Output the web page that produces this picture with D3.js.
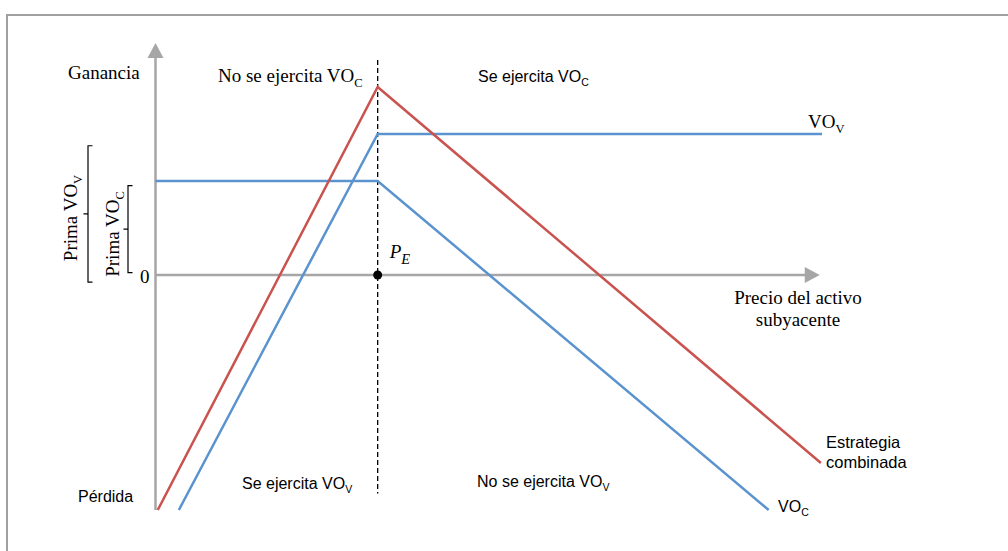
<!DOCTYPE html>
<html><head><meta charset="utf-8">
<script src="https://cdn.jsdelivr.net/npm/d3@7"></script>
<style>
html,body{margin:0;padding:0;background:#fff;}
.serif{font-family:"Liberation Serif","Times New Roman",serif;fill:#000;}
.sans{font-family:"Liberation Sans",Arial,sans-serif;fill:#000;}
</style></head>
<body>
<svg id="chart" width="1008" height="551"></svg>
<script>
// ---- data (price of underlying vs profit, schematic units) ----
const strikePrice = 10;
const priceMax = 30;
const profitMin = -10, profitMax = 10;

const vovPrice  = [1.05, 10, 30];      // VO_V
const vovProfit = [-10, 6, 6];
const vocPrice  = [0, 10, 27.6];       // VO_C
const vocProfit = [4, 4, -10];
const comboPrice  = [0.1, 10, 29.95];  // Estrategia combinada
const comboProfit = [-10, 8, -8];

const primaVOV = [5.5, -0.3];          // bracket extents (profit units)
const primaVOC = [3.8, 0.1];

const zeroTick = ["0"];

// ---- scales ----
const svg = d3.select("#chart");
const x = d3.scaleLinear().domain([0, priceMax]).range([155.5, 822]);
const y = d3.scaleLinear().domain([profitMin, profitMax]).range([510, 40]);

// frame
svg.append("rect").attr("x",7).attr("y",15).attr("width",1020).attr("height",600)
  .attr("fill","none").attr("stroke","#a0a0a0").attr("stroke-width",2);

const axisColor = "#a6a6a6";
// y axis
const yTip = y(9.87);
svg.append("line").attr("x1",x(0)).attr("x2",x(0)).attr("y1",y(profitMin)).attr("y2",yTip+12)
  .attr("stroke",axisColor).attr("stroke-width",2.5);
svg.append("path").attr("d",`M${x(0)},${yTip} L${x(0)-8},${yTip+15} L${x(0)+8},${yTip+15} Z`).attr("fill",axisColor);
// x axis
const xTip = x(29.9);
svg.append("line").attr("x1",x(0)).attr("x2",xTip-12).attr("y1",y(0)).attr("y2",y(0))
  .attr("stroke",axisColor).attr("stroke-width",2.5);
svg.append("path").attr("d",`M${xTip},${y(0)} L${xTip-15},${y(0)-8} L${xTip-15},${y(0)+8} Z`).attr("fill",axisColor);

// zero tick label via axis generator
const yAxis = d3.axisLeft(y).tickValues([0]).tickSize(0).tickPadding(6).tickFormat((d,i)=>zeroTick[i]);
const gy = svg.append("g").attr("transform",`translate(${x(0)},0)`).call(yAxis);
gy.select(".domain").remove();
gy.selectAll("text").attr("font-family","Liberation Serif").attr("font-size",19).attr("fill","#000").attr("dy","0.38em");

// strike dashed line
svg.append("line").attr("x1",x(strikePrice)).attr("x2",x(strikePrice))
  .attr("y1",y(9.15)).attr("y2",y(-9.3))
  .attr("stroke","#000").attr("stroke-width",1.3).attr("stroke-dasharray","5,3");

// payoff lines
const line = d3.line().x(d=>x(d[0])).y(d=>y(d[1]));
const blue = "#5b93cf", red = "#c9534f";
svg.append("path").datum(d3.zip(vovPrice, vovProfit)).attr("d",line)
  .attr("fill","none").attr("stroke",blue).attr("stroke-width",2.5);
svg.append("path").datum(d3.zip(vocPrice, vocProfit)).attr("d",line)
  .attr("fill","none").attr("stroke",blue).attr("stroke-width",2.5);
svg.append("path").datum(d3.zip(comboPrice, comboProfit)).attr("d",line)
  .attr("fill","none").attr("stroke",red).attr("stroke-width",2.5);

// PE point
svg.append("circle").attr("cx",x(strikePrice)).attr("cy",y(0)).attr("r",4.5).attr("fill","#000");
const pe = svg.append("text").attr("class","serif").attr("x",x(strikePrice)+12).attr("y",258)
  .attr("font-size",19).attr("font-style","italic");
pe.append("tspan").text("P");
pe.append("tspan").attr("font-size",14.5).attr("dy",6).text("E");

// helper for text with subscript
function sub(cls, xx, yy, size, main, s, anchor){
  const t = svg.append("text").attr("class",cls).attr("x",xx).attr("y",yy).attr("font-size",size)
    .attr("text-anchor",anchor||"start");
  t.append("tspan").text(main);
  t.append("tspan").attr("font-size",size*0.66).attr("dy",size*0.28).text(s);
  return t;
}

svg.append("text").attr("class","serif").attr("x",68).attr("y",79).attr("font-size",19).text("Ganancia");
sub("serif",218,82,19,"No se ejercita VO","C");
sub("sans",478,82,16,"Se ejercita VO","C");
sub("serif",808,128,19,"VO","V");
svg.append("text").attr("class","serif").attr("x",798).attr("y",304).attr("font-size",19).attr("text-anchor","middle").text("Precio del activo");
svg.append("text").attr("class","serif").attr("x",798).attr("y",326).attr("font-size",19).attr("text-anchor","middle").text("subyacente");
svg.append("text").attr("class","sans").attr("x",826).attr("y",448).attr("font-size",16.5).text("Estrategia");
svg.append("text").attr("class","sans").attr("x",826).attr("y",468).attr("font-size",16.5).text("combinada");
sub("sans",778,512,16,"VO","C");
svg.append("text").attr("class","sans").attr("x",78).attr("y",502).attr("font-size",16).text("Pérdida");
sub("sans",242,489,16,"Se ejercita VO","V");
sub("sans",477,487,16,"No se ejercita VO","V");

// brackets
function bracket(bx, range, tick){
  const y1 = y(range[0]), y2 = y(range[1]), ym = (y1+y2)/2;
  svg.append("path").attr("d",`M${bx+tick},${y1} H${bx} V${y2} H${bx+tick} M${bx},${ym} H${bx-tick}`)
    .attr("fill","none").attr("stroke","#000").attr("stroke-width",1.2);
}
bracket(88, primaVOV, 4.5);
bracket(128, primaVOC, 4.5);

function rotSub(cx, cy, main, s){
  const t = svg.append("text").attr("class","serif").attr("font-size",19).attr("text-anchor","middle")
    .attr("transform",`translate(${cx},${cy}) rotate(-90)`);
  t.append("tspan").text(main);
  t.append("tspan").attr("font-size",12.5).attr("dy",5).text(s);
}
rotSub(77, 218, "Prima VO", "V");
rotSub(119, 234, "Prima VO", "C");
</script>
</body></html>
